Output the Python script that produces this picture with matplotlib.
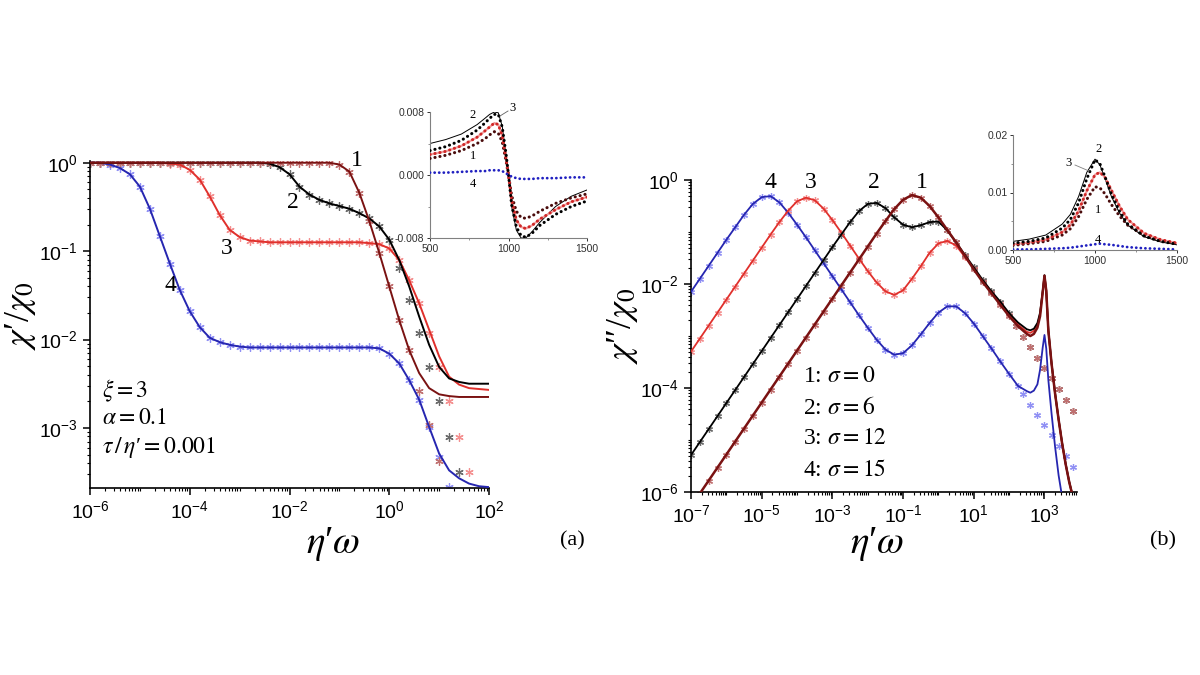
import numpy as np
import matplotlib.pyplot as plt
from matplotlib.ticker import FixedLocator, FixedFormatter, LogLocator, NullFormatter, MultipleLocator

plt.rcParams['font.family'] = ['Liberation Sans', 'DejaVu Sans']
plt.rcParams['mathtext.fontset'] = 'custom'
plt.rcParams['mathtext.rm'] = 'Liberation Sans'
plt.rcParams['mathtext.it'] = 'Liberation Sans:italic'
plt.rcParams['mathtext.bf'] = 'Liberation Sans:bold'

W, H = 1200, 675

# ---------------- data (log10 values) ----------------
# panel (a): chi'/chi0 vs eta' omega
a_logx = [-6.0, -5.8, -5.6, -5.4, -5.2, -5.0, -4.8, -4.6, -4.4, -4.2, -4.0,
          -3.8, -3.6, -3.4, -3.2, -3.0, -2.8, -2.6, -2.4, -2.2, -2.0,
          -1.8, -1.6, -1.4, -1.2, -1.0, -0.8, -0.6, -0.4, -0.2, 0.0,
          0.2, 0.4, 0.6, 0.8, 1.0, 1.2, 1.4, 1.6, 1.8, 2.0]
a1 = [0.0, 0.0, 0.0, 0.0, 0.0, 0.0, 0.0, 0.0, 0.0, 0.0, 0.0,
      0.0, 0.0, 0.0, 0.0, 0.0, 0.0, 0.0, 0.0, 0.0, 0.0,
      0.0, 0.0, 0.0, 0.0, -0.02, -0.10, -0.34, -0.66, -1.02, -1.40,
      -1.78, -2.12, -2.38, -2.55, -2.62, -2.64, -2.65, -2.65, -2.65, -2.65]
a2 = [0.0, 0.0, 0.0, 0.0, 0.0, 0.0, 0.0, 0.0, 0.0, 0.0, 0.0,
      0.0, 0.0, 0.0, 0.0, 0.0, 0.0, 0.0, -0.01, -0.05, -0.13,
      -0.27, -0.36, -0.42, -0.46, -0.49, -0.52, -0.57, -0.63, -0.72, -0.87,
      -1.10, -1.40, -1.74, -2.06, -2.31, -2.44, -2.48, -2.50, -2.50, -2.50]
a3 = [0.0, 0.0, 0.0, 0.0, 0.0, 0.0, 0.0, 0.0, -0.01, -0.02, -0.08,
      -0.19, -0.38, -0.59, -0.76, -0.84, -0.88, -0.89, -0.90, -0.90, -0.90,
      -0.90, -0.90, -0.90, -0.90, -0.90, -0.90, -0.90, -0.91, -0.92, -0.97,
      -1.10, -1.33, -1.59, -1.89, -2.19, -2.42, -2.51, -2.55, -2.56, -2.57]
a4 = [0.0, 0.0, -0.02, -0.06, -0.13, -0.27, -0.52, -0.83, -1.14, -1.44, -1.68,
      -1.86, -1.98, -2.03, -2.06, -2.08, -2.09, -2.09, -2.09, -2.09, -2.09,
      -2.09, -2.09, -2.09, -2.09, -2.09, -2.09, -2.09, -2.09, -2.10, -2.16,
      -2.27, -2.46, -2.68, -2.99, -3.29, -3.48, -3.57, -3.63, -3.66, -3.67]
# simulation points (asterisks) that leave the curves at high frequency
a_on1, a_tail1_x, a_tail1_y = 33, [0.6, 0.8, 1.0], [-2.58, -2.97, -3.38]
a_on2, a_tail2_x, a_tail2_y = 31, [0.2, 0.4, 0.6, 0.8, 1.0, 1.2, 1.4], [-1.19, -1.55, -1.93, -2.31, -2.70, -3.10, -3.50]
a_on3, a_tail3_x, a_tail3_y = 34, [0.8, 1.0, 1.2, 1.4, 1.6], [-1.93, -2.31, -2.70, -3.10, -3.50]
a_on4, a_tail4_x, a_tail4_y = 35, [1.0, 1.2], [-3.33, -3.67]

# panel (b): chi''/chi0 vs eta' omega
b_logx = [-7.0, -6.75, -6.5, -6.25, -6.0, -5.75, -5.5, -5.25, -5.0, -4.75,
          -4.5, -4.25, -4.0, -3.75, -3.5, -3.25, -3.0, -2.75, -2.5, -2.25,
          -2.0, -1.75, -1.5, -1.25, -1.0, -0.75, -0.5, -0.25, 0.0, 0.25,
          0.5, 0.75, 1.0, 1.25, 1.5, 1.75, 2.0, 2.25, 2.5, 2.6,
          2.7, 2.8, 2.875, 2.95, 3.0, 3.05, 3.11, 3.2, 3.3, 3.4,
          3.5, 3.6, 3.7, 3.8, 3.9]
b1 = [-6.28, -6.03, -5.78, -5.53, -5.28, -5.03, -4.78, -4.53, -4.28, -4.03,
      -3.78, -3.53, -3.28, -3.03, -2.78, -2.53, -2.28, -2.03, -1.78, -1.53,
      -1.28, -1.03, -0.79, -0.56, -0.38, -0.29, -0.34, -0.50, -0.72, -0.96,
      -1.20, -1.46, -1.72, -1.96, -2.18, -2.40, -2.62, -2.81, -2.96, -3.00,
      -2.96, -2.84, -2.62, -2.16, -1.84, -2.13, -2.90, -3.53, -4.11, -4.61,
      -5.07, -5.47, -5.81, -6.09, -6.36]
b2 = [-5.29, -5.04, -4.79, -4.54, -4.29, -4.04, -3.79, -3.54, -3.29, -3.04,
      -2.79, -2.54, -2.29, -2.04, -1.79, -1.54, -1.29, -1.05, -0.81, -0.60,
      -0.46, -0.44, -0.54, -0.72, -0.86, -0.91, -0.87, -0.81, -0.80, -0.97,
      -1.20, -1.44, -1.68, -1.92, -2.14, -2.34, -2.56, -2.74, -2.87, -2.89,
      -2.86, -2.75, -2.55, -2.13, -1.83, -2.12, -2.89, -3.52, -4.10, -4.60,
      -5.06, -5.46, -5.80, -6.08, -6.35]
b3 = [-3.30, -3.05, -2.80, -2.55, -2.30, -2.05, -1.80, -1.55, -1.30, -1.05,
      -0.81, -0.59, -0.41, -0.34, -0.39, -0.55, -0.77, -1.01, -1.26, -1.51,
      -1.75, -1.97, -2.14, -2.21, -2.12, -1.90, -1.66, -1.40, -1.22, -1.17,
      -1.26, -1.48, -1.70, -1.94, -2.16, -2.37, -2.59, -2.78, -2.92, -2.94,
      -2.90, -2.79, -2.58, -2.15, -1.84, -2.13, -2.90, -3.53, -4.11, -4.61,
      -5.07, -5.47, -5.81, -6.09, -6.36]
b4 = [-2.15, -1.90, -1.65, -1.40, -1.15, -0.91, -0.67, -0.46, -0.33, -0.31,
      -0.43, -0.63, -0.86, -1.10, -1.35, -1.60, -1.85, -2.10, -2.35, -2.60,
      -2.84, -3.07, -3.26, -3.36, -3.33, -3.18, -2.97, -2.75, -2.55, -2.43,
      -2.43, -2.56, -2.76, -3.00, -3.24, -3.49, -3.73, -3.96, -4.06, -4.09,
      -4.05, -3.93, -3.65, -3.22, -2.98, -3.24, -3.85, -4.49, -5.13, -5.68,
      -6.10, -6.45, -6.75, -7.00, -7.20]
b_on123, b_tail123_x, b_tail123_y = 37, [2.2, 2.4, 2.6, 2.8, 3.0, 3.2, 3.4, 3.6, 3.8], \
    [-2.81, -3.01, -3.22, -3.42, -3.61, -3.80, -4.01, -4.23, -4.45]
b_on4, b_tail4_x, b_tail4_y = 38, [2.4, 2.6, 2.8, 3.0, 3.2, 3.4, 3.6, 3.8], \
    [-4.12, -4.33, -4.52, -4.72, -4.91, -5.11, -5.31, -5.51]

# inset of (a): chi' near the resonance (linear scales)
ia_x = [500, 600, 700, 800, 850, 880, 910, 935, 960, 985, 1000,
        1020, 1050, 1080, 1110, 1150, 1200, 1300, 1400, 1500]
ia_line2 = [0.0040, 0.0045, 0.0052, 0.0064, 0.0072, 0.0077, 0.0080, 0.0079, 0.0062, 0.0024, 0.0,
            -0.0040, -0.0070, -0.0080, -0.0080, -0.0072, -0.0060, -0.0040, -0.0027, -0.0019]
ia1 = [0.0021, 0.0025, 0.0031, 0.0040, 0.0046, 0.0051, 0.0055, 0.0053, 0.0042, 0.0017, 0.0,
       -0.0026, -0.0046, -0.0054, -0.0055, -0.0052, -0.0046, -0.0036, -0.0029, -0.0024]
ia2 = [0.0031, 0.0036, 0.0044, 0.0057, 0.0066, 0.0072, 0.0077, 0.0077, 0.0061, 0.0026, 0.0,
       -0.0038, -0.0066, -0.0077, -0.0079, -0.0074, -0.0064, -0.0050, -0.0040, -0.0033]
ia3 = [0.0026, 0.0030, 0.0037, 0.0048, 0.0056, 0.0061, 0.0066, 0.0064, 0.0050, 0.0020, 0.0,
       -0.0032, -0.0057, -0.0066, -0.0068, -0.0064, -0.0056, -0.0044, -0.0034, -0.0028]
ia4 = [0.0003, 0.0003, 0.0004, 0.0005, 0.0005, 0.0006, 0.0006, 0.0006, 0.0005, 0.0002, 0.0,
       -0.0002, -0.0004, -0.0005, -0.0005, -0.0005, -0.0004, -0.0004, -0.0003, -0.0003]

# inset of (b): chi'' near the resonance
ib_x = [500, 600, 700, 800, 850, 900, 950, 1000, 1030, 1060, 1100, 1150, 1200, 1300, 1400, 1500]
ib_line2 = [0.0015, 0.0019, 0.0026, 0.0045, 0.0062, 0.0093, 0.0135, 0.0158, 0.0148, 0.0125,
            0.0093, 0.0064, 0.0043, 0.0023, 0.0014, 0.0009]
ib1 = [0.0008, 0.0011, 0.0015, 0.0026, 0.0037, 0.0058, 0.0088, 0.0110, 0.0108, 0.0098,
       0.0079, 0.0059, 0.0043, 0.0025, 0.0016, 0.0011]
ib2 = [0.0012, 0.0015, 0.0021, 0.0038, 0.0053, 0.0082, 0.0124, 0.0157, 0.0150, 0.0128,
       0.0097, 0.0067, 0.0045, 0.0024, 0.0015, 0.0010]
ib3 = [0.0010, 0.0013, 0.0018, 0.0031, 0.0044, 0.0068, 0.0103, 0.0131, 0.0135, 0.0127,
       0.0104, 0.0076, 0.0053, 0.0029, 0.0018, 0.0012]
ib4 = [0.0001, 0.0001, 0.0002, 0.0003, 0.0004, 0.0006, 0.0008, 0.0010, 0.0011, 0.0010,
       0.0009, 0.0007, 0.0005, 0.0003, 0.0002, 0.0001]

a_xticks = [1e-6, 1e-4, 1e-2, 1e0, 1e2]
a_xlabels = [r'$10^{-6}$', r'$10^{-4}$', r'$10^{-2}$', r'$10^{0}$', r'$10^{2}$']
a_yticks = [1e-3, 1e-2, 1e-1, 1e0]
a_ylabels = [r'$10^{-3}$', r'$10^{-2}$', r'$10^{-1}$', r'$10^{0}$']
b_xticks = [1e-7, 1e-5, 1e-3, 1e-1, 1e1, 1e3]
b_xlabels = [r'$10^{-7}$', r'$10^{-5}$', r'$10^{-3}$', r'$10^{-1}$', r'$10^{1}$', r'$10^{3}$']
b_yticks = [1e-6, 1e-4, 1e-2, 1e0]
b_ylabels = [r'$10^{-6}$', r'$10^{-4}$', r'$10^{-2}$', r'$10^{0}$']

# colours: curve 1 dark red, 2 black, 3 red, 4 blue
line_col = {1: '#7a1212', 2: '#000000', 3: '#e0302c', 4: '#2626b0'}
mark_col = {1: '#c07070', 2: '#6a6a6a', 3: '#f49090', 4: '#9090f4'}
ast = (6, 2, 0)
serif = ['Liberation Serif', 'DejaVu Serif']

fig = plt.figure(figsize=(W / 100, H / 100), dpi=100)


def px_axes(l, t, r, b):
    return fig.add_axes([l / W, 1 - b / H, (r - l) / W, (b - t) / H])


def ftext(x, y, s, size, **kw):
    fig.text(x / W, 1 - y / H, s, fontsize=size, family=serif, math_fontfamily='stix',
             ha=kw.pop('ha', 'center'), va=kw.pop('va', 'center'), **kw)


def style_log(ax, xt, xl, yt, yl):
    for s in ['top', 'right']:
        ax.spines[s].set_visible(False)
    for s in ['left', 'bottom']:
        ax.spines[s].set_linewidth(1.2)
    ax.xaxis.set_major_locator(FixedLocator(xt))
    ax.xaxis.set_major_formatter(FixedFormatter(xl))
    ax.yaxis.set_major_locator(FixedLocator(yt))
    ax.yaxis.set_major_formatter(FixedFormatter(yl))
    ax.xaxis.set_minor_locator(LogLocator(base=10, subs=np.arange(1, 10), numticks=200))
    ax.yaxis.set_minor_locator(LogLocator(base=10, subs=np.arange(1, 10), numticks=200))
    ax.xaxis.set_minor_formatter(NullFormatter())
    ax.yaxis.set_minor_formatter(NullFormatter())
    ax.tick_params(which='major', direction='out', length=5, width=1.1, labelsize=14, pad=4)
    ax.tick_params(which='minor', direction='out', length=2.5, width=0.8)
    ax.patch.set_alpha(0)


def curve(ax, lx, ly, k, mx, my, ms, lw):
    ax.plot(10 ** np.array(mx), 10 ** np.array(my), ls='none', marker=ast, ms=ms,
            mec=mark_col[k], mew=0.9, zorder=2)
    ax.plot(10 ** np.array(lx), 10 ** np.array(ly), color=line_col[k], lw=lw, zorder=3)


# ---------------- panel (a) ----------------
axa = px_axes(90, 161, 489, 488)
axa.set_xscale('log')
axa.set_yscale('log')
axa.set_xlim(1e-6, 1e2)
axa.set_ylim(10 ** -3.68, 10 ** 0.02)
for k, ys, on, tx, ty in [(4, a4, a_on4, a_tail4_x, a_tail4_y),
                          (3, a3, a_on3, a_tail3_x, a_tail3_y),
                          (2, a2, a_on2, a_tail2_x, a_tail2_y),
                          (1, a1, a_on1, a_tail1_x, a_tail1_y)]:
    curve(axa, a_logx, ys, k, a_logx[:on] + tx, ys[:on] + ty, 6, 1.4)
style_log(axa, a_xticks, a_xlabels, a_yticks, a_ylabels)

# ---------------- panel (b) ----------------
axb = px_axes(691, 180, 1077, 492)
axb.set_xscale('log')
axb.set_yscale('log')
axb.set_xlim(1e-7, 10 ** 3.92)
axb.set_ylim(1e-6, 1e0)
for k, ys, on, tx, ty in [(4, b4, b_on4, b_tail4_x, b_tail4_y),
                          (3, b3, b_on123, b_tail123_x, b_tail123_y),
                          (2, b2, b_on123, b_tail123_x, b_tail123_y),
                          (1, b1, b_on123, b_tail123_x, b_tail123_y)]:
    curve(axb, b_logx, ys, k, b_logx[:on] + tx, ys[:on] + ty, 5, 1.8 if k == 1 else 1.3)
style_log(axb, b_xticks, b_xlabels, b_yticks, b_ylabels)


# ---------------- insets ----------------
def style_inset(ax, xt, yt, yl):
    for s in ['top', 'right']:
        ax.spines[s].set_visible(False)
    for s in ['left', 'bottom']:
        ax.spines[s].set_color('#808080')
        ax.spines[s].set_linewidth(0.8)
    ax.set_xticks(xt)
    ax.set_xticklabels([str(v) for v in xt])
    ax.set_yticks(yt)
    ax.set_yticklabels(yl)
    ax.xaxis.set_minor_locator(MultipleLocator(250))
    ax.tick_params(which='major', direction='out', length=2.5, width=0.7, labelsize=7.5,
                   pad=1.5, colors='#303030')
    ax.tick_params(which='minor', direction='out', length=1.5, width=0.6, colors='#808080')
    ax.patch.set_alpha(0)


def dots(ax, x, y, col, size=2.2):
    ax.plot(x, y, color=col, lw=size, ls=(0, (0.05, 1.6)), dash_capstyle='round', zorder=3)


ina = px_axes(430, 112, 587, 238)
ina.set_xlim(500, 1500)
ina.set_ylim(-0.008, 0.008)
ina.plot(ia_x, ia_line2, color='black', lw=0.7, zorder=2)
ina.plot(ia_x, ia3, color='#f2a0a0', lw=1.6, zorder=2)
dots(ina, ia_x, ia1, '#4a0c0c')
dots(ina, ia_x, ia3, '#d02828')
dots(ina, ia_x, ia2, 'black')
dots(ina, ia_x, ia4, '#2020c0', 2.0)
style_inset(ina, [500, 1000, 1500], [-0.008, 0.0, 0.008], ['-0.008', '0.000', '0.008'])
ina.yaxis.set_minor_locator(MultipleLocator(0.004))

inb = px_axes(1013, 135, 1177, 250)
inb.set_xlim(500, 1500)
inb.set_ylim(0, 0.02)
inb.plot(ib_x, ib_line2, color='black', lw=0.7, zorder=2)
inb.plot(ib_x, ib3, color='#f2a0a0', lw=1.6, zorder=2)
dots(inb, ib_x, ib1, '#4a0c0c')
dots(inb, ib_x, ib3, '#d02828')
dots(inb, ib_x, ib2, 'black')
dots(inb, ib_x, ib4, '#2020c0', 2.0)
style_inset(inb, [500, 1000, 1500], [0.0, 0.01, 0.02], ['0.00', '0.01', '0.02'])
inb.yaxis.set_minor_locator(MultipleLocator(0.005))

# ---------------- text ----------------
ftext(20, 316, '$\\chi$\u2032/$\\chi_0$', 26, rotation=90)
ftext(333, 544, '$\\eta$\u2032$\\omega$', 28)
ftext(622, 326, '$\\chi$\u2033/$\\chi_0$', 26, rotation=90)
ftext(877, 544, '$\\eta$\u2032$\\omega$', 28)
ftext(572, 541, '(a)', 16)
ftext(1163, 541, '(b)', 16)

for s, x, y in [('1', 357, 160), ('2', 293, 202), ('3', 227, 248), ('4', 170, 285),
                ('4', 770, 182), ('3', 811, 182), ('2', 874, 183), ('1', 922, 183)]:
    ftext(x, y, s, 17)

ftext(102, 391, r'$\xi = 3$', 17, ha='left')
ftext(102, 418, r'$\alpha = 0.1$', 17, ha='left')
ftext(102, 447, '$\\tau\\,/\\,\\eta$\u2032$ = 0.001$', 17, ha='left')

for i, s in enumerate(['0', '6', '12', '15']):
    ftext(803, 377 + i * 31, '%d: $\\sigma = %s$' % (i + 1, s), 17, ha='left')

for s, x, y in [('2', 473, 115), ('3', 513, 108), ('1', 473, 156), ('4', 473, 184),
                ('2', 1099, 149), ('3', 1068, 163), ('1', 1098, 210), ('4', 1098, 240)]:
    ftext(x, y, s, 9)
fig.add_artist(plt.Line2D([508 / W, 500 / W], [1 - 111 / H, 1 - 116 / H], color='#606060', lw=0.6))
fig.add_artist(plt.Line2D([1075 / W, 1089 / W], [1 - 165 / H, 1 - 171 / H], color='#808080', lw=0.6))

fig.savefig('out.png', dpi=100)
